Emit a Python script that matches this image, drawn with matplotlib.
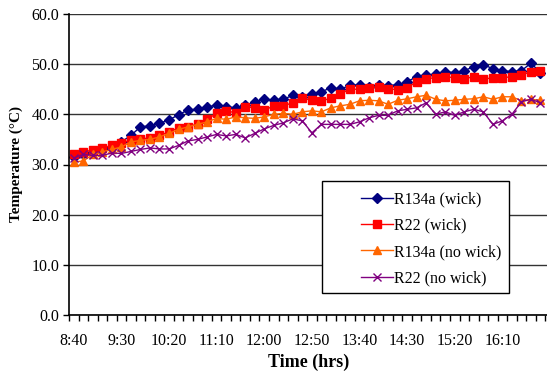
"""Temperature vs time for R134a / R22 with and without wick (Excel-style line chart)."""
import numpy as np, matplotlib
matplotlib.use('Agg'); import matplotlib.pyplot as plt
from matplotlib.patches import Rectangle

# 10-minute readings from 8:40 to 16:50
times = ['8:40', '8:50', '9:00', '9:10', '9:20', '9:30', '9:40', '9:50', '10:00', '10:10',
         '10:20', '10:30', '10:40', '10:50', '11:00', '11:10', '11:20', '11:30', '11:40', '11:50',
         '12:00', '12:10', '12:20', '12:30', '12:40', '12:50', '13:00', '13:10', '13:20', '13:30',
         '13:40', '13:50', '14:00', '14:10', '14:20', '14:30', '14:40', '14:50', '15:00', '15:10',
         '15:20', '15:30', '15:40', '15:50', '16:00', '16:10', '16:20', '16:30', '16:40', '16:50']
r134a_wick = [31.5, 32.0, 32.5, 33.0, 33.5, 34.5, 35.8, 37.5, 37.7, 38.2,
              38.9, 39.9, 40.9, 41.0, 41.5, 41.8, 41.5, 41.3, 41.8, 42.5,
              43.0, 42.8, 43.0, 43.8, 43.5, 44.0, 44.5, 45.3, 45.0, 45.8,
              45.8, 45.5, 45.8, 45.7, 45.9, 46.5, 47.5, 47.8, 48.0, 48.5,
              48.3, 48.7, 49.5, 49.9, 49.1, 48.7, 48.5, 48.7, 50.2, 48.3]
r22_wick = [32.0, 32.5, 32.9, 33.3, 33.8, 34.3, 34.9, 35.1, 35.3, 35.8,
            36.5, 37.3, 37.5, 38.1, 39.0, 40.2, 40.7, 40.3, 41.5, 41.3,
            40.8, 41.7, 41.7, 42.3, 43.2, 42.8, 42.7, 43.2, 44.1, 45.0,
            45.0, 45.3, 45.5, 45.1, 44.9, 45.3, 46.5, 47.1, 47.3, 47.5,
            47.3, 47.1, 47.5, 47.0, 47.3, 47.3, 47.5, 47.8, 48.5, 48.7]
r134a_nowick = [30.5, 30.7, 32.0, 32.5, 33.0, 33.5, 34.5, 34.8, 35.0, 35.5,
                36.2, 37.0, 37.5, 38.0, 38.5, 39.2, 39.0, 39.5, 39.3, 39.2,
                39.5, 40.0, 40.2, 40.0, 40.5, 40.7, 40.5, 41.3, 41.7, 42.0,
                42.7, 42.8, 42.7, 42.0, 42.8, 43.1, 43.5, 43.8, 43.0, 42.7,
                42.8, 43.0, 43.1, 43.5, 43.0, 43.5, 43.5, 42.7, 43.0, 42.8]
r22_nowick = [31.3, 32.0, 31.8, 31.8, 32.3, 32.2, 32.6, 33.0, 33.3, 33.1,
              33.1, 33.8, 34.7, 35.0, 35.5, 36.0, 35.7, 36.0, 35.3, 36.2,
              37.1, 37.8, 38.3, 39.1, 38.7, 36.3, 38.0, 38.0, 38.0, 38.0,
              38.5, 39.3, 39.8, 39.8, 40.7, 41.0, 41.3, 42.3, 40.0, 40.5,
              39.8, 40.5, 41.0, 40.5, 38.0, 38.7, 40.0, 42.5, 43.0, 42.3]

series = [('R134a (wick)', r134a_wick, '#000080', 'D', 5.0),
          ('R22 (wick)', r22_wick, '#FF0000', 's', 5.5),
          ('R134a (no wick)', r134a_nowick, '#FF6600', '^', 6.0),
          ('R22 (no wick)', r22_nowick, '#800080', 'x', 6.0)]

plt.rcParams['font.family'] = ['Liberation Serif', 'DejaVu Serif']
fig = plt.figure(figsize=(5.47, 3.73), dpi=100)
ax = fig.add_axes([69/547, 1 - 315/373, 1 - 69/547 + 0.002, (315 - 14)/373])

x = np.arange(len(times))
lines = []
for name, vals, col, mk, ms in series:
    ln, = ax.plot(x, vals, color=col, lw=1.0, marker=mk, ms=ms, mfc=col, mec=col,
                  mew=1.0, label=name, zorder=3)
    lines.append(ln)

ax.set_ylim(0, 60)
ax.set_yticks(np.arange(0, 61, 10))
ax.set_yticklabels([f'{v:.1f}' for v in np.arange(0, 61, 10)], fontsize=11.5)
ax.yaxis.grid(True, color='#333333', lw=1.0, zorder=0)
ax.tick_params(axis='y', length=4, width=1, pad=3, direction='out')

ax.set_xlim(-0.5, len(times) - 0.2)
ax.set_xticks(x[::5])
ax.set_xticklabels(times[::5], fontsize=11.5)
ax.set_xticks(np.arange(-0.5, len(times), 1.0), minor=True)
ax.tick_params(axis='x', which='major', length=0, pad=13)
ax.tick_params(axis='x', which='minor', length=4, width=1, direction='out')

for s in ['top', 'right']:
    ax.spines[s].set_visible(False)
for s in ['left', 'bottom']:
    ax.spines[s].set_linewidth(1.2)
    ax.spines[s].set_zorder(4)

ax.set_xlabel('Time (hrs)', fontsize=13, fontweight='bold', labelpad=3)
ax.set_ylabel('Temperature (°C)', fontsize=11, fontweight='bold', labelpad=6)

# legend box drawn by hand, entries placed inside
bx0, by0 = (321 - 69) / 478, (315 - 293) / 301
bw, bh = (508 - 321) / 478, (293 - 181) / 301
ax.add_patch(Rectangle((bx0, by0), bw, bh, transform=ax.transAxes, fc='white',
                       ec='black', lw=1.0, zorder=5))
leg = ax.legend(handles=lines, loc='center left', frameon=False, fontsize=11.5,
                bbox_to_anchor=((349 - 69) / 478, by0 + bh / 2 - 0.006), handlelength=2.0,
                handletextpad=0.05, labelspacing=0.65, borderpad=0.2)
leg.set_zorder(6)

fig.savefig('out.png', dpi=100)
